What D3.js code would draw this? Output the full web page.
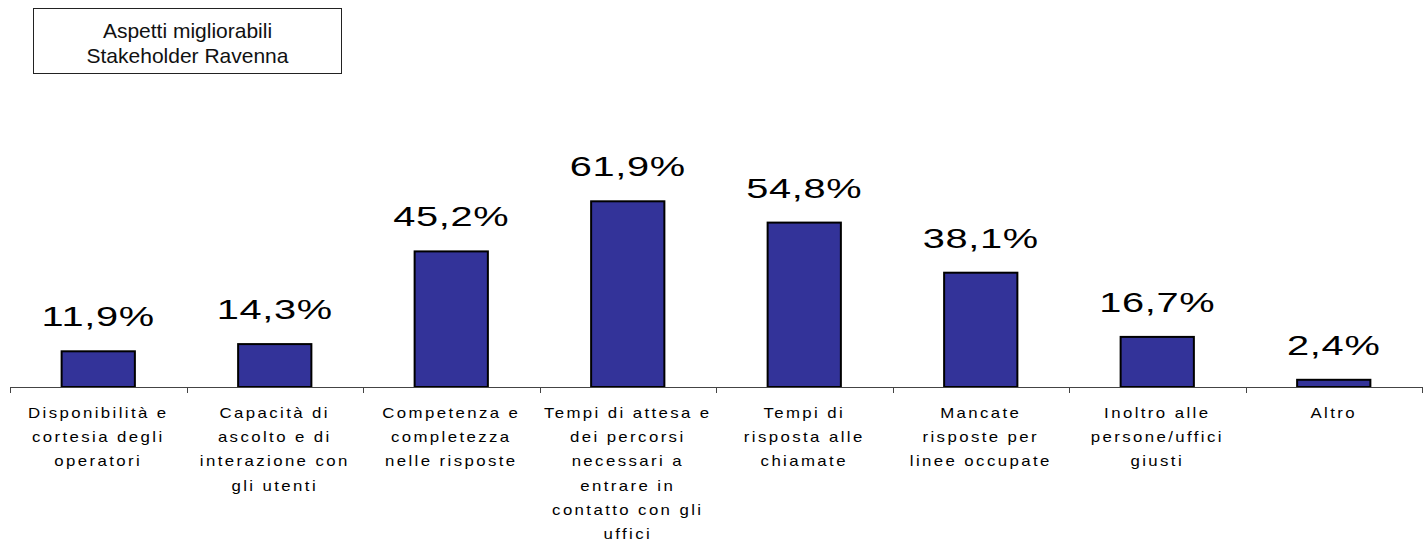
<!DOCTYPE html>
<html>
<head>
<meta charset="utf-8">
<script src="https://cdn.jsdelivr.net/npm/d3@7"></script>
<style>
  html, body { margin: 0; padding: 0; background: #fff; }
  svg { display: block; font-family: Arial, "Liberation Sans", sans-serif; }
</style>
</head>
<body>
<svg id="chart" width="1424" height="543"></svg>
<script>
// Chart title (two lines inside the framed box)
const titleLines = ["Aspetti migliorabili", "Stakeholder Ravenna"];

// Categories, each split into the lines shown under the axis
const categories = [
  "Disponibilità e cortesia degli operatori",
  "Capacità di ascolto e di interazione con gli utenti",
  "Competenza e completezza nelle risposte",
  "Tempi di attesa e dei percorsi necessari a entrare in contatto con gli uffici",
  "Tempi di risposta alle chiamate",
  "Mancate risposte per linee occupate",
  "Inoltro alle persone/uffici giusti",
  "Altro"
];
const categoryLines = [
  ["Disponibilità e", "cortesia degli", "operatori"],
  ["Capacità di", "ascolto e di", "interazione con", "gli utenti"],
  ["Competenza e", "completezza", "nelle risposte"],
  ["Tempi di attesa e", "dei percorsi", "necessari a", "entrare in", "contatto con gli", "uffici"],
  ["Tempi di", "risposta alle", "chiamate"],
  ["Mancate", "risposte per", "linee occupate"],
  ["Inoltro alle", "persone/uffici", "giusti"],
  ["Altro"]
];

// Share of stakeholders (%) per category
const values = [11.9, 14.3, 45.2, 61.9, 54.8, 38.1, 16.7, 2.4];

const svg = d3.select("#chart");
const fmt = v => d3.format(".1f")(v).replace(".", ",") + "%";

// Scales
const x = d3.scaleBand()
  .domain(categories)
  .range([10, 1422])
  .paddingInner(0.585)
  .paddingOuter(0.2925);

const y = d3.scaleLinear()
  .domain([0, 100])
  .range([387, 87]);

// Title box
const title = svg.append("g");
title.append("rect")
  .attr("x", 33.5).attr("y", 8.5)
  .attr("width", 308).attr("height", 65)
  .attr("fill", "#fff").attr("stroke", "#222").attr("stroke-width", 1);
title.selectAll("text").data(titleLines).join("text")
  .attr("x", 187.5)
  .attr("y", (d, i) => 38 + i * 25)
  .attr("text-anchor", "middle")
  .attr("font-size", 21)
  .attr("fill", "#111")
  .text(d => d);

// Bars
svg.append("g").selectAll("rect").data(values).join("rect")
  .attr("x", (d, i) => x(categories[i]))
  .attr("y", d => y(d))
  .attr("width", x.bandwidth())
  .attr("height", d => y(0) - y(d))
  .attr("fill", "#333399")
  .attr("stroke", "#000")
  .attr("stroke-width", 2);

// Category axis: baseline and band-boundary ticks
const axis = svg.append("g");
const [r0, r1] = x.range();
axis.append("line")
  .attr("x1", r0).attr("x2", r1)
  .attr("y1", y(0) + 0.5).attr("y2", y(0) + 0.5)
  .attr("stroke", "#444").attr("stroke-width", 1);
axis.selectAll("line.tick").data(d3.range(categories.length + 1)).join("line")
  .attr("class", "tick")
  .attr("x1", i => Math.round(r0 + i * x.step()) + 0.5)
  .attr("x2", i => Math.round(r0 + i * x.step()) + 0.5)
  .attr("y1", y(0)).attr("y2", y(0) + 6)
  .attr("stroke", "#444").attr("stroke-width", 1);

// Value labels above bars (wide, stretched digits)
svg.append("g").selectAll("text").data(values).join("text")
  .attr("transform", (d, i) =>
    `translate(${x(categories[i]) + x.bandwidth() / 2},${y(d) - 25}) scale(1.42,1)`)
  .attr("text-anchor", "middle")
  .attr("font-size", 28)
  .attr("letter-spacing", 0.5)
  .attr("fill", "#000")
  .text(d => fmt(d));

// Category labels under the axis
const labels = svg.append("g").selectAll("g").data(categoryLines).join("g")
  .attr("transform", (d, i) =>
    `translate(${x(categories[i]) + x.bandwidth() / 2},0) scale(1.2,1)`);
labels.selectAll("text").data(d => d).join("text")
  .attr("x", 0)
  .attr("y", (d, j) => 418 + j * 24.2)
  .attr("text-anchor", "middle")
  .attr("font-size", 14)
  .attr("letter-spacing", 2)
  .attr("fill", "#000")
  .text(d => d);
</script>
</body>
</html>
